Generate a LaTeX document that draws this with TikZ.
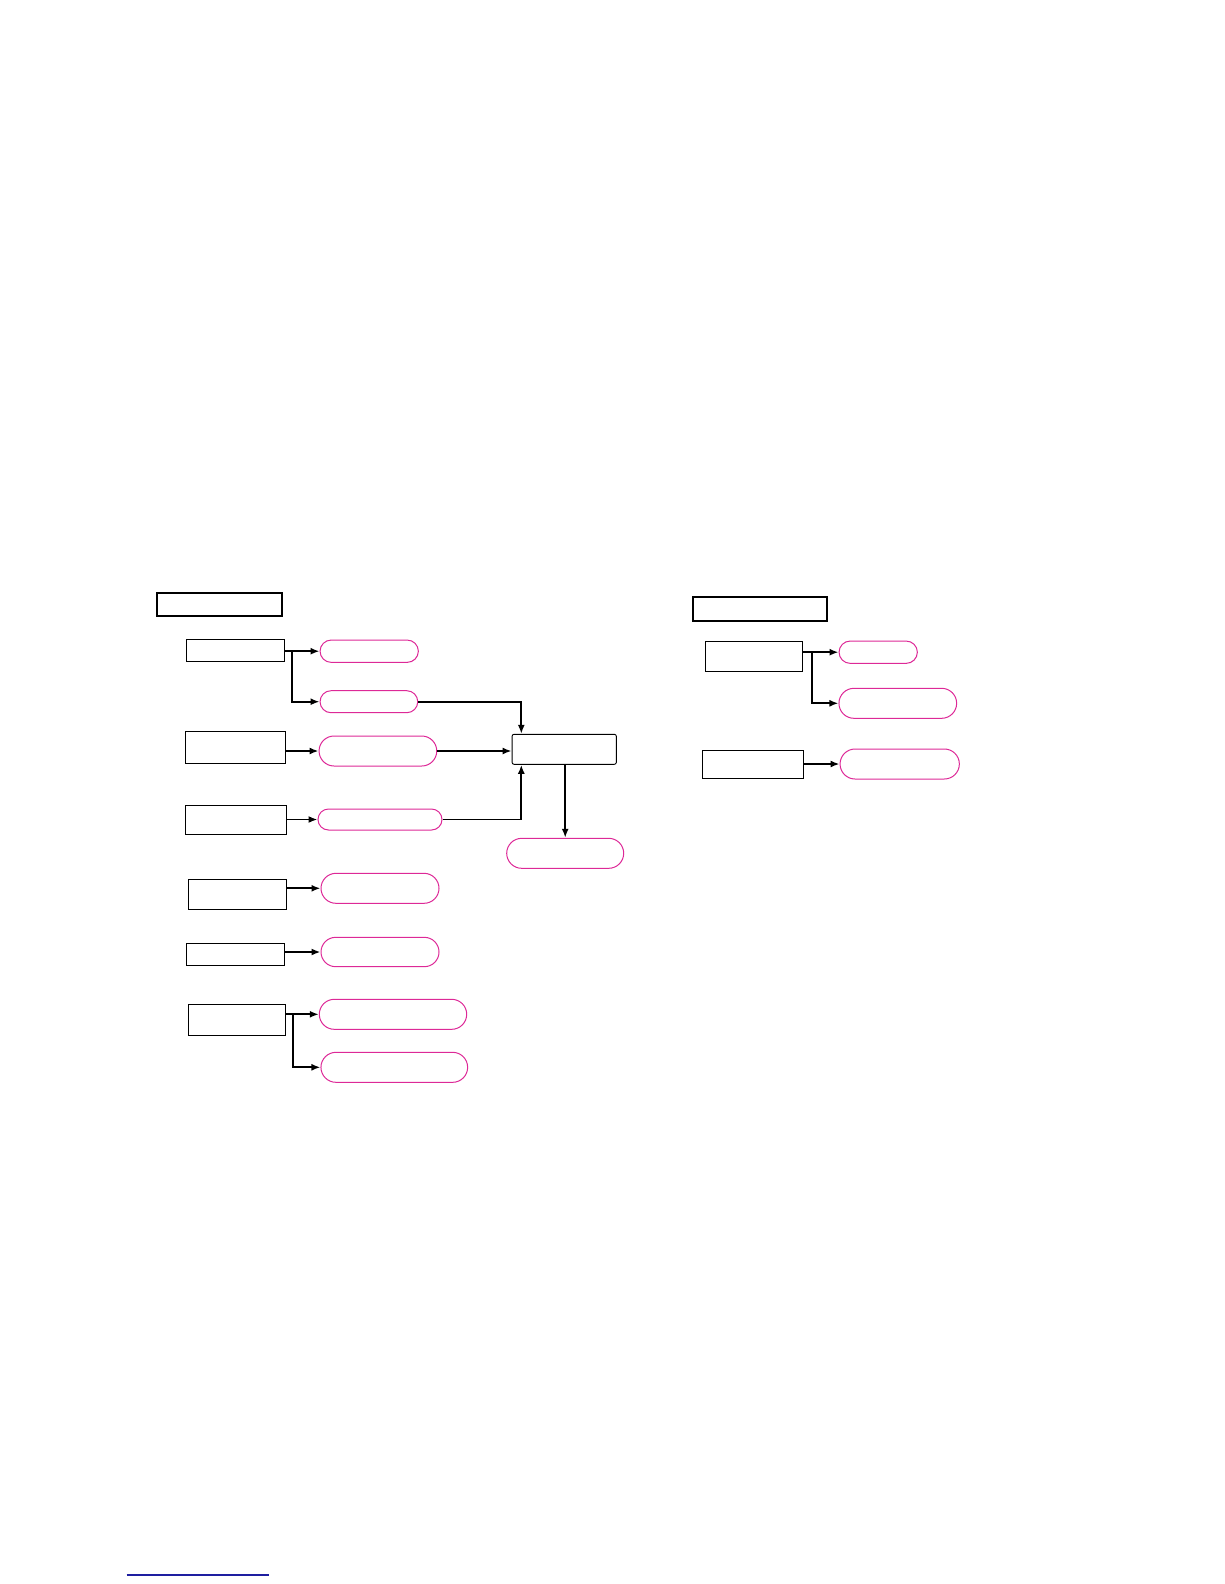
\documentclass[tikz,border=0pt]{standalone}
\usepackage{tikz}
\usetikzlibrary{arrows.meta, positioning, shapes.misc, calc}
\usepackage{xcolor}
\definecolor{pillpink}{RGB}{221,41,151}
\definecolor{linknavy}{RGB}{30,30,160}

\begin{document}
\begin{tikzpicture}[
  x=1pt, y=-1pt,
  title/.style={rectangle, draw=black, line width=1.8pt, inner sep=0pt},
  block/.style={rectangle, draw=black, line width=0.9pt, inner sep=0pt},
  hub/.style={rectangle, draw=black, line width=0.9pt, inner sep=0pt, rounded corners=2pt},
  pill/.style={rounded rectangle, draw=pillpink, line width=1pt, inner sep=0pt},
  arrow/.style={-{Latex[length=9pt, width=7pt]}, line width=1.8pt},
]
  \useasboundingbox (0,0) rectangle (1224,1584);

  % Left group
  \node[title, minimum width=125.6pt, minimum height=23pt] (titleL) at (219.5,604.2) {};

  \node[block, minimum width=98.3pt, minimum height=21.7pt] (srcA) at (235.2,650.2) {};
  \node[pill, minimum width=98.3pt, minimum height=22.3pt] (resA1) at (369.2,651.2) {};
  \node[pill, minimum width=97.7pt, minimum height=22pt] (resA2) at (368.9,701.7) {};

  \node[block, minimum width=100pt, minimum height=32pt] (srcB) at (235.7,747.3) {};
  \node[pill, minimum width=117.7pt, minimum height=30pt] (resB) at (377.9,751) {};

  \node[block, minimum width=101pt, minimum height=29pt] (srcC) at (236.3,819.5) {};
  \node[pill, minimum width=124pt, minimum height=21pt] (resC) at (380,819.5) {};

  \node[hub, minimum width=104.3pt, minimum height=30pt] (merge) at (564.2,749.3) {};
  \node[pill, minimum width=117pt, minimum height=30pt] (final) at (565.2,853.3) {};

  \node[block, minimum width=98.4pt, minimum height=30pt] (srcD) at (237.5,894.3) {};
  \node[pill, minimum width=118pt, minimum height=30pt] (resD) at (380,888.3) {};

  \node[block, minimum width=98.4pt, minimum height=22pt] (srcE) at (235.5,954.3) {};
  \node[pill, minimum width=118pt, minimum height=29.4pt] (resE) at (380,952) {};

  \node[block, minimum width=97pt, minimum height=31pt] (srcF) at (236.8,1019.5) {};
  \node[pill, minimum width=147.4pt, minimum height=30pt] (resF1) at (393,1014.3) {};
  \node[pill, minimum width=146.7pt, minimum height=30pt] (resF2) at (394.3,1067.3) {};

  \draw[arrow] (resA1.west -| srcA.east) -- (resA1.west);
  \draw[arrow] ([xshift=7pt]resA1.west -| srcA.east) |- (resA2.west);
  \draw[arrow] (resB.west -| srcB.east) -- (resB.west);
  \draw[arrow] (resC.west -| srcC.east) -- (resC.west);
  \draw[arrow] (resA2.east) -| ([xshift=9.7pt]merge.north west);
  \draw[arrow] (resB.east) -- (resB.east -| merge.west);
  \draw[arrow] (resC.east) -| ([xshift=9.7pt]merge.south west);
  \draw[arrow] (merge.south -| final.north) -- (final.north);
  \draw[arrow] (resD.west -| srcD.east) -- (resD.west);
  \draw[arrow] (resE.west -| srcE.east) -- (resE.west);
  \draw[arrow] (resF1.west -| srcF.east) -- (resF1.west);
  \draw[arrow] ([xshift=7pt]resF1.west -| srcF.east) |- (resF2.west);

  % Right group
  \node[title, minimum width=134pt, minimum height=24.3pt] (titleR) at (760.3,608.8) {};

  \node[block, minimum width=97.7pt, minimum height=30.7pt] (srcG) at (753.8,656.3) {};
  \node[pill, minimum width=78.3pt, minimum height=22.3pt] (resG1) at (878.2,652.2) {};
  \node[pill, minimum width=117.7pt, minimum height=30pt] (resG2) at (897.8,703.3) {};

  \node[block, minimum width=100.6pt, minimum height=28.3pt] (srcH) at (753,764.2) {};
  \node[pill, minimum width=119.3pt, minimum height=30pt] (resH) at (899.7,764) {};

  \draw[arrow] (resG1.west -| srcG.east) -- (resG1.west);
  \draw[arrow] ([xshift=9pt]resG1.west -| srcG.east) |- (resG2.west);
  \draw[arrow] (resH.west -| srcH.east) -- (resH.west);

  % link rule at the foot
  \draw[linknavy, line width=1.2pt] (126.7,1575) -- (269,1575);
\end{tikzpicture}
\end{document}
